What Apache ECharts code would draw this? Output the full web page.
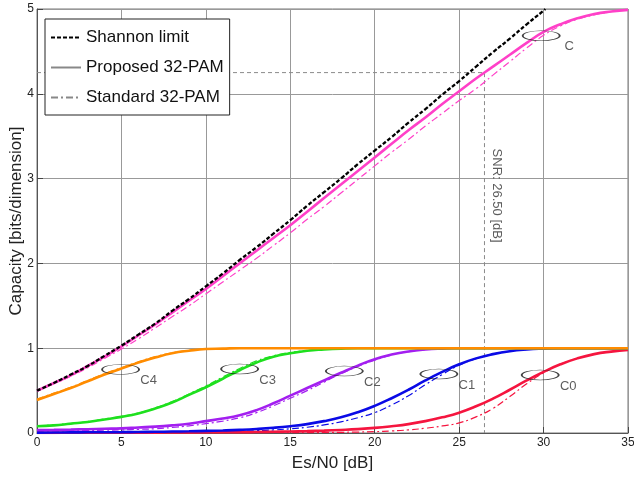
<!DOCTYPE html>
<html>
<head>
<meta charset="utf-8">
<title>Capacity of 32-PAM</title>
<script src="https://cdn.jsdelivr.net/npm/echarts@6/dist/echarts.min.js"></script>
<style>
  html, body { margin: 0; padding: 0; background: #fff; }
  #chart { width: 634px; height: 478px; }
</style>
</head>
<body>
<div id="chart"></div>
<script>
// Es/N0 sampling grid [dB]
const snrDb = [0,1,2,3,4,5,6,7,8,9,10,11,12,13,14,15,16,17,18,19,20,21,22,23,24,25,26,27,28,29,30,31,32,33,34,35];

// Shannon limit [bits/dimension]
const shannonSnr = [0,1,2,3,4,5,6,7,8,9,10,11,12,13,14,15,16,17,18,19,20,21,22,23,24,25,26,27,28,29,30,30.1];
const shannonCap = [0.50,0.59,0.69,0.79,0.91,1.03,1.16,1.29,1.44,1.58,1.73,1.88,2.04,2.19,2.35,2.51,2.68,2.84,3.00,3.17,3.33,3.49,3.66,3.82,3.99,4.15,4.32,4.49,4.65,4.82,4.98,5.00];

// Total capacity C
const propC = [0.50,0.59,0.68,0.79,0.90,1.02,1.15,1.28,1.42,1.56,1.70,1.85,2.00,2.15,2.30,2.45,2.61,2.77,2.93,3.09,3.25,3.41,3.57,3.72,3.88,4.03,4.18,4.32,4.46,4.60,4.73,4.82,4.89,4.94,4.97,4.99];
const stdC  = [0.49,0.58,0.67,0.77,0.88,0.99,1.11,1.24,1.37,1.50,1.64,1.78,1.92,2.06,2.21,2.36,2.52,2.67,2.83,2.99,3.15,3.31,3.46,3.62,3.77,3.92,4.06,4.22,4.38,4.54,4.69,4.80,4.88,4.93,4.97,4.99];

// Bit-level capacities C4 ... C0
const propC4 = [0.39,0.46,0.53,0.61,0.69,0.76,0.83,0.89,0.94,0.97,0.99,0.995,1,1,1,1,1,1,1,1,1,1,1,1,1,1,1,1,1,1,1,1,1,1,1,1];
const stdC4  = [0.40,0.47,0.54,0.62,0.70,0.77,0.84,0.90,0.945,0.975,0.99,0.995,1,1,1,1,1,1,1,1,1,1,1,1,1,1,1,1,1,1,1,1,1,1,1,1];
const propC3 = [0.08,0.09,0.11,0.13,0.16,0.19,0.23,0.29,0.36,0.45,0.54,0.64,0.74,0.83,0.90,0.94,0.97,0.985,0.995,1,1,1,1,1,1,1,1,1,1,1,1,1,1,1,1,1];
const stdC3  = [0.085,0.095,0.115,0.135,0.165,0.195,0.235,0.295,0.37,0.46,0.555,0.66,0.76,0.85,0.91,0.95,0.975,0.99,0.995,1,1,1,1,1,1,1,1,1,1,1,1,1,1,1,1,1];
const propC2 = [0.035,0.037,0.04,0.045,0.05,0.055,0.065,0.075,0.09,0.11,0.14,0.17,0.21,0.27,0.35,0.44,0.53,0.62,0.71,0.795,0.87,0.925,0.962,0.984,0.995,1,1,1,1,1,1,1,1,1,1,1];
const stdC2  = [0.02,0.022,0.025,0.03,0.033,0.037,0.043,0.05,0.065,0.085,0.11,0.14,0.18,0.24,0.32,0.41,0.50,0.60,0.70,0.785,0.86,0.92,0.96,0.983,0.995,1,1,1,1,1,1,1,1,1,1,1];
const propC1 = [0.005,0.006,0.007,0.008,0.009,0.01,0.012,0.014,0.017,0.02,0.025,0.03,0.037,0.047,0.061,0.08,0.105,0.14,0.185,0.245,0.32,0.41,0.51,0.62,0.72,0.81,0.88,0.93,0.965,0.985,0.995,1,1,1,1,1];
const stdC1  = [0.003,0.003,0.004,0.004,0.005,0.005,0.006,0.007,0.008,0.01,0.012,0.015,0.02,0.027,0.036,0.05,0.068,0.095,0.132,0.18,0.24,0.33,0.44,0.57,0.69,0.80,0.875,0.93,0.965,0.985,0.995,1,1,1,1,1];
const propC0 = [0.002,0.002,0.003,0.003,0.004,0.004,0.005,0.005,0.006,0.007,0.008,0.009,0.01,0.012,0.015,0.018,0.022,0.028,0.036,0.046,0.06,0.08,0.105,0.14,0.185,0.24,0.315,0.405,0.51,0.62,0.72,0.81,0.88,0.93,0.96,0.98];
const stdC0  = [0.001,0.001,0.001,0.001,0.001,0.002,0.002,0.002,0.002,0.002,0.002,0.003,0.003,0.003,0.004,0.004,0.005,0.006,0.008,0.011,0.016,0.024,0.037,0.056,0.083,0.12,0.19,0.29,0.43,0.58,0.71,0.81,0.88,0.93,0.96,0.98];

// Ellipse call-outs naming each capacity curve
const calloutNames = ['C','C4','C3','C2','C1','C0'];
const calloutSnr   = [29.86,4.95,12.0,18.2,23.8,29.8];
const calloutCap   = [4.685,0.75,0.755,0.73,0.696,0.684];

// Operating point marker
const markerSnr = 26.5;
const markerCap = 4.25;

// Axis ticks
const xTicks = { min: 0, max: 35, step: 5 };
const yTicks = { min: 0, max: 5, step: 1 };

const FONT = 'Liberation Sans, Arial, sans-serif';
const colors = {
  c: '#ff40c8', c4: '#ff8c00', c3: '#1ee01e', c2: '#a31ff0', c1: '#0a0ae6', c0: '#f5153f'
};
const DASHDOT = [7, 3, 2, 3];

const pairs = (xs, ys) => xs.map((x, i) => [x, ys[i]]);

function curve(name, ys, color, standard, z) {
  return {
    name: name,
    type: 'line',
    data: pairs(snrDb, ys),
    showSymbol: false,
    symbol: 'none',
    smooth: 0.5,
    silent: true,
    z: z,
    lineStyle: standard
      ? { color: color, width: 1.2, type: DASHDOT }
      : { color: color, width: 2.6 }
  };
}

const chart = echarts.init(document.getElementById('chart'), null, { renderer: 'canvas' });

const series = [
  curve('C0 std', stdC0, colors.c0, true, 2),
  curve('C0', propC0, colors.c0, false, 3),
  curve('C1 std', stdC1, colors.c1, true, 2),
  curve('C1', propC1, colors.c1, false, 3),
  curve('C2 std', stdC2, colors.c2, true, 2),
  curve('C2', propC2, colors.c2, false, 3),
  curve('C3 std', stdC3, colors.c3, true, 2),
  curve('C3', propC3, colors.c3, false, 3),
  curve('C4 std', stdC4, colors.c4, true, 4),
  curve('C4', propC4, colors.c4, false, 4),
  curve('C std', stdC, colors.c, true, 2),
  curve('C', propC, colors.c, false, 3),
  {
    name: 'Shannon limit',
    type: 'line',
    data: pairs(shannonSnr, shannonCap),
    showSymbol: false,
    symbol: 'none',
    smooth: 0.5,
    silent: true,
    z: 5,
    itemStyle: { color: '#000' },
    lineStyle: { color: '#000', width: 2.3, type: [4, 2] }
  },
  // legend-only entries
  {
    name: 'Proposed 32-PAM', type: 'line', data: [], symbol: 'none',
    lineStyle: { color: '#888', width: 2.5 }, itemStyle: { color: '#888' }
  },
  {
    name: 'Standard 32-PAM', type: 'line', data: [], symbol: 'none',
    lineStyle: { color: '#888', width: 1, type: DASHDOT }, itemStyle: { color: '#888' }
  },
  // operating point guide lines
  {
    name: 'marker',
    type: 'line',
    data: [[xTicks.min, markerCap], [markerSnr, markerCap], [markerSnr, yTicks.min]],
    symbol: 'none',
    silent: true,
    z: 1,
    lineStyle: { color: '#8a8a8a', width: 1, type: [4, 3] }
  },
  // operating point caption
  {
    name: 'marker label',
    type: 'scatter',
    data: [[markerSnr + 0.7, 2.8]],
    symbolSize: 0,
    silent: true,
    z: 6,
    label: {
      show: true,
      position: 'inside',
      rotate: -90,
      formatter: 'SNR: ' + markerSnr.toFixed(2) + ' [dB]',
      fontFamily: FONT,
      fontSize: 13,
      color: '#333'
    }
  },
  // ellipse call-outs
  {
    name: 'callouts',
    type: 'scatter',
    data: calloutNames.map((n, i) => ({ name: n, value: [calloutSnr[i], calloutCap[i]] })),
    symbol: 'circle',
    symbolSize: [37, 10],
    silent: true,
    z: 7,
    itemStyle: { color: 'rgba(0,0,0,0)', borderColor: '#111', borderWidth: 1 },
    label: {
      show: true,
      position: 'inside',
      offset: [28, 11],
      formatter: '{b}',
      fontFamily: FONT,
      fontSize: 13,
      color: '#333'
    }
  }
];

chart.setOption({
  animation: false,
  backgroundColor: '#fff',
  grid: {
    left: 37, right: 6, top: 9, bottom: 45,
    containLabel: false,
    outerBoundsMode: 'none',
    show: true, borderColor: '#777', borderWidth: 1, backgroundColor: 'transparent'
  },
  legend: {
    data: ['Shannon limit', 'Proposed 32-PAM', 'Standard 32-PAM'],
    orient: 'vertical',
    left: 45, top: 19,
    padding: [10, 6, 9, 5],
    itemWidth: 30, itemHeight: 17, itemGap: 13,
    backgroundColor: '#fff',
    borderColor: '#222', borderWidth: 1, borderRadius: 0,
    selectedMode: false,
    itemStyle: { color: 'rgba(0,0,0,0)', borderWidth: 0, opacity: 0 },
    textStyle: { fontFamily: FONT, fontSize: 17, color: '#111' }
  },
  xAxis: {
    type: 'value',
    min: xTicks.min, max: xTicks.max, interval: xTicks.step,
    name: 'Es/N0 [dB]',
    nameLocation: 'middle', nameGap: 22,
    nameMoveOverlap: false,
    nameTextStyle: { fontFamily: FONT, fontSize: 17, color: '#222' },
    axisLine: { show: true, lineStyle: { color: '#555', width: 1 } },
    axisTick: { show: true, inside: true, length: 6, lineStyle: { color: '#444' } },
    axisLabel: { margin: 4, fontFamily: FONT, fontSize: 12, color: '#222' },
    splitLine: { show: true, lineStyle: { color: '#999', width: 1 } }
  },
  yAxis: {
    type: 'value',
    min: yTicks.min, max: yTicks.max, interval: yTicks.step,
    name: 'Capacity [bits/dimension]',
    nameLocation: 'middle', nameGap: 12,
    nameMoveOverlap: false,
    nameTextStyle: { fontFamily: FONT, fontSize: 17, color: '#222' },
    axisLine: { show: true, lineStyle: { color: '#555', width: 1 } },
    axisTick: { show: true, inside: true, length: 6, lineStyle: { color: '#444' } },
    axisLabel: { margin: 3, fontFamily: FONT, fontSize: 12, color: '#222' },
    splitLine: { show: true, lineStyle: { color: '#999', width: 1 } }
  },
  series: series
});
</script>
</body>
</html>
